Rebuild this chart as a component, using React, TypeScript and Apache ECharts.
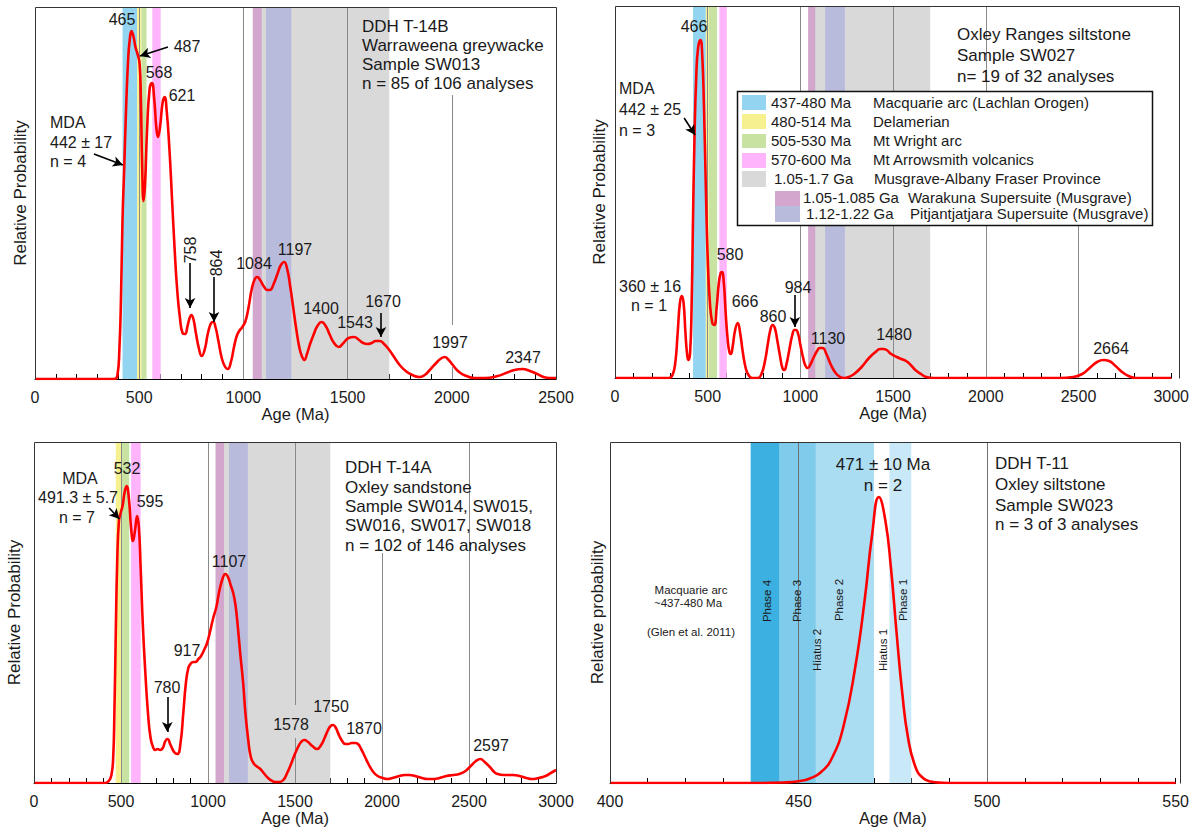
import React, { useEffect, useRef } from "react";
import * as echarts from "echarts";

// ================= DATA =================
// Probability density curves: [age (Ma), relative probability]
const curveT14B: number[][] = [
  [0, 0], [380, 0], [395, 3], [405, 30], [413, 85], [420, 160], [428, 210], [437, 270], [447, 320], [455, 340],
  [463, 348], [472, 343], [482, 332], [492, 325], [502, 315], [508, 280], [514, 215], [521, 178], [528, 195],
  [538, 250], [550, 290], [561, 296], [572, 280], [582, 252], [590, 242], [600, 252], [612, 276], [622, 282],
  [632, 268], [645, 230], [658, 178], [670, 130], [682, 90], [695, 62], [708, 46], [720, 45], [732, 53],
  [742, 61], [750, 64], [760, 60], [772, 46], [786, 31], [800, 23], [815, 30], [830, 46], [845, 56], [855, 57],
  [866, 52], [880, 38], [895, 22], [910, 13], [925, 10], [940, 17], [955, 32], [968, 43], [980, 48], [995, 52],
  [1010, 58], [1025, 72], [1040, 90], [1055, 100], [1066, 102], [1080, 99], [1100, 92], [1115, 89], [1127, 89],
  [1145, 95], [1165, 106], [1180, 114], [1195, 117], [1210, 110], [1225, 92], [1240, 70], [1255, 48], [1270, 30],
  [1282, 22], [1292, 19], [1305, 25], [1320, 35], [1338, 45], [1355, 53], [1375, 57], [1395, 53], [1415, 44],
  [1435, 36], [1457, 32], [1480, 36], [1505, 41], [1531, 42], [1555, 39], [1575, 36], [1595, 35], [1615, 36],
  [1635, 38], [1654, 38], [1675, 35], [1700, 29], [1723, 22], [1750, 14], [1779, 8], [1810, 4], [1843, 2],
  [1870, 4], [1890, 8], [1907, 12], [1925, 16], [1945, 20], [1966, 22], [1985, 19], [2005, 14], [2035, 7],
  [2070, 3], [2108, 1], [2160, 1], [2219, 3], [2260, 6], [2300, 9], [2339, 10], [2375, 8], [2410, 5], [2440, 2],
  [2470, 1], [2500, 1],
];

const curveSW027: number[][] = [
  [0, 0], [290, 0], [310, 3], [325, 15], [338, 45], [350, 75], [360, 82], [370, 75], [380, 45], [390, 22],
  [397, 18], [405, 25], [413, 70], [420, 150], [429, 243], [438, 300], [448, 330], [461, 338], [470, 325],
  [480, 270], [490, 190], [500, 120], [512, 75], [525, 55], [536, 53], [548, 70], [560, 95], [570, 105],
  [577, 106], [587, 95], [597, 65], [607, 40], [617, 26], [625, 24], [635, 32], [648, 48], [662, 55], [675, 45],
  [690, 25], [705, 10], [720, 3], [740, 0], [770, 0], [790, 4], [810, 18], [825, 35], [838, 48], [850, 53],
  [862, 50], [875, 38], [890, 22], [903, 10], [913, 8], [925, 14], [940, 28], [955, 42], [968, 48], [976, 48],
  [988, 44], [1000, 33], [1015, 20], [1028, 12], [1040, 10], [1055, 14], [1070, 20], [1090, 27], [1105, 30],
  [1120, 30], [1140, 24], [1165, 13], [1190, 5], [1215, 1], [1235, 0], [1260, 1], [1290, 4], [1330, 11],
  [1370, 20], [1405, 26], [1430, 29], [1447, 29], [1465, 28], [1490, 24], [1520, 21], [1545, 19], [1570, 17],
  [1595, 13], [1620, 8], [1650, 4], [1680, 1], [1720, 0], [2400, 0], [2470, 1], [2520, 4], [2560, 10],
  [2600, 16], [2635, 18], [2665, 17], [2700, 12], [2735, 6], [2770, 2], [2810, 0], [3000, 0],
];

const curveT14A: number[][] = [
  [0, 0], [410, 0], [430, 2], [445, 8], [455, 25], [462, 70], [470, 150], [478, 220], [488, 262], [498, 270],
  [510, 278], [520, 290], [532, 297], [545, 285], [558, 255], [569, 242], [580, 252], [593, 267], [603, 255],
  [613, 215], [625, 160], [640, 110], [655, 70], [670, 45], [686, 35], [697, 33], [710, 34], [725, 33],
  [740, 35], [755, 42], [767, 44], [785, 38], [805, 31], [824, 29], [842, 40], [858, 70], [873, 100], [887, 115],
  [899, 119], [915, 121], [928, 121], [945, 124], [960, 127], [980, 134], [993, 139], [1010, 150], [1030, 165],
  [1048, 176], [1065, 192], [1085, 205], [1100, 209], [1115, 206], [1130, 198], [1145, 190], [1158, 178],
  [1172, 155], [1185, 130], [1202, 100], [1215, 70], [1230, 45], [1246, 26], [1265, 19], [1285, 16], [1301, 14],
  [1320, 10], [1345, 5], [1370, 2], [1389, 1], [1410, 1], [1433, 3], [1455, 10], [1475, 18], [1495, 27],
  [1515, 35], [1535, 41], [1554, 43], [1575, 41], [1600, 37], [1627, 34], [1650, 38], [1670, 45], [1690, 53],
  [1705, 57], [1719, 58], [1735, 55], [1755, 47], [1775, 41], [1790, 39], [1807, 39], [1825, 40], [1845, 40],
  [1862, 39], [1880, 34], [1900, 27], [1925, 18], [1950, 11], [1975, 7], [2005, 5], [2030, 4], [2060, 5],
  [2100, 7], [2130, 8], [2158, 8], [2190, 7], [2230, 5], [2260, 4], [2290, 4], [2330, 5], [2370, 7], [2410, 8],
  [2444, 9], [2480, 12], [2510, 17], [2540, 22], [2565, 24], [2590, 21], [2620, 16], [2645, 11], [2664, 9],
  [2700, 8], [2752, 8], [2790, 7], [2830, 5], [2862, 4], [2900, 5], [2940, 7], [2970, 10], [3000, 13],
];

const curveSW023: number[][] = [
  [400, 0], [440, 0], [446, 0.5], [450, 1.8], [453, 4.5], [456, 11], [459, 26], [462, 58], [465, 115],
  [467.5, 182], [469.5, 248], [471.3, 286], [473, 263], [474.5, 215], [476, 150], [477.5, 90], [479, 46],
  [481, 16], [483, 5], [485, 1.5], [488, 0.3], [492, 0], [550, 0],
];

// Age bands: [name, from (Ma), to (Ma)]
const bandsT14B: [string, number, number][] = [
  ["macquarie", 420, 490], ["delamerian", 490, 511], ["wright", 511, 535], ["arrowsmith", 563, 603],
  ["musgrave", 1045, 1700], ["warakuna", 1045, 1088], ["pitjantjatjara", 1108, 1230],
];
const bandsSW027: [string, number, number][] = [
  ["macquarie", 421, 490], ["delamerian", 490, 506], ["wright", 506, 550], ["arrowsmith", 563, 603],
  ["musgrave", 1042, 1700], ["warakuna", 1042, 1080], ["pitjantjatjara", 1133, 1240],
];
const bandsT14A: [string, number, number][] = [
  ["delamerian", 470, 506], ["wright", 506, 547], ["arrowsmith", 558, 613],
  ["musgrave", 1044, 1703], ["warakuna", 1044, 1092], ["pitjantjatjara", 1121, 1229],
];
const bandsSW023: [string, number, number][] = [
  ["phase4", 437.3, 445], ["phase3", 445, 454.6], ["phase2", 454.6, 470], ["phase1", 474.1, 479.9],
];

// Reference lines: [age, from, to] (relative probability units)
const refLinesT14B = [[500, 0, 372], [1000, 0, 372], [1500, 0, 372], [2000, 54, 284], [2000, 0, 12]];
const refLinesSW027 = [[500, 0, 372], [1000, 0, 372], [1500, 0, 372], [2000, 0, 372], [2500, 0, 153]];
const refLinesT14A = [[500, 0, 341], [1000, 0, 341], [1500, 78, 341], [1500, 0, 45], [2000, 0, 230], [2500, 0, 341]];
const refLinesSW023 = [[450, 0, 341], [500, 0, 341]];

// Arrows: [fromAge, fromProb, toAge, toProb]
const arrowsT14B = [[638, 332, 504, 323], [283, 225, 422, 214], [744, 116, 744, 71], [859, 102, 859, 57], [1660, 66, 1660, 42]];
const arrowsSW027 = [[373, 260, 432, 243], [970, 83, 970, 51]];
const arrowsT14A = [[432, 275, 491, 264], [766, 86, 766, 51]];

const legendRanges = ["437-480 Ma", "480-514 Ma", "505-530 Ma", "570-600 Ma", "1.05-1.7 Ga", "1.05-1.085 Ga", "1.12-1.22 Ga"];
const legendNames = [
  "Macquarie arc (Lachlan Orogen)", "Delamerian", "Mt Wright arc", "Mt Arrowsmith volcanics",
  "Musgrave-Albany Fraser Province", "Warakuna Supersuite (Musgrave)", "Pitjantjatjara Supersuite (Musgrave)",
];
const legendKeys = ["macquarie", "delamerian", "wright", "arrowsmith", "musgrave", "warakuna", "pitjantjatjara"];

// ================= STYLE / LAYOUT =================
const FONT = '"Liberation Sans", Arial, Helvetica, sans-serif';
const TXT = "#1a1a1a";
const BAND_COLORS: Record<string, string> = {
  macquarie: "#93d5f0", delamerian: "#f7f08e", wright: "#c8e2a2", arrowsmith: "#ffb4fb",
  musgrave: "#d9d9d9", warakuna: "#d3a7cd", pitjantjatjara: "#b9bbdc",
  phase4: "#3cb0e0", phase3: "#7ecbec", phase2: "#aadcf2", phase1: "#c9e9f8",
};
const GRIDS = [
  { left: 35, top: 7, width: 521, height: 372 },
  { left: 615, top: 6, width: 564, height: 372 },
  { left: 34, top: 442, width: 522, height: 341 },
  { left: 610, top: 442, width: 570, height: 341 },
];

function font(size: number) {
  return `${size}px ${FONT}`;
}
function text(x: number, y: number, t: string, size = 16, align = "center", rot = 0) {
  return {
    type: "text", x, y, z: 30, rotation: rot, silent: true,
    style: { text: t, fill: TXT, font: font(size), textAlign: align, textVerticalAlign: "middle" },
  };
}

function buildOption() {
  const panels = [
    { curve: curveT14B, bands: bandsT14B, lines: refLinesT14B, arrows: arrowsT14B, min: 0, max: 2500, interval: 500, yName: "Relative Probability", yGap: 6, xGap: 25, lineColor: "#8a8a8a" },
    { curve: curveSW027, bands: bandsSW027, lines: refLinesSW027, arrows: arrowsSW027, min: 0, max: 3000, interval: 500, yName: "Relative Probability", yGap: 7, xGap: 25, lineColor: "#8a8a8a" },
    { curve: curveT14A, bands: bandsT14A, lines: refLinesT14A, arrows: arrowsT14A, min: 0, max: 3000, interval: 500, yName: "Relative Probability", yGap: 11, xGap: 26, lineColor: "#8a8a8a" },
    { curve: curveSW023, bands: bandsSW023, lines: refLinesSW023, arrows: [] as number[][], min: 400, max: 550, interval: 50, yName: "Relative probability", yGap: 4, xGap: 26, lineColor: "#707070" },
  ];

  const grid = GRIDS.map((g) => ({ ...g, show: false }));
  const xAxis = panels.map((p, i) => ({
    type: "value", gridIndex: i, min: p.min, max: p.max, interval: p.interval,
    name: "Age (Ma)", nameLocation: "middle", nameGap: p.xGap,
    nameTextStyle: { fontSize: 16.5, color: TXT, fontFamily: FONT },
    axisLine: { show: true, onZero: false, lineStyle: { color: "#000", width: 1 } },
    axisTick: { show: true, inside: true, length: 5, lineStyle: { color: "#000", width: 1 } },
    minorTick: { show: true, splitNumber: 5, length: 5, lineStyle: { color: "#000", width: 1 } },
    axisLabel: { fontSize: 16, color: TXT, fontFamily: FONT, margin: 10, formatter: (v: number) => String(v) },
    splitLine: { show: false },
  }));
  const yAxis = panels.map((p, i) => ({
    type: "value", gridIndex: i, min: 0, max: GRIDS[i].height,
    name: p.yName, nameLocation: "middle", nameGap: p.yGap, nameRotate: 90,
    nameTextStyle: { fontSize: 17, color: TXT, fontFamily: FONT },
    axisLine: { show: false }, axisTick: { show: false }, axisLabel: { show: false }, splitLine: { show: false },
  }));

  const series: any[] = [];
  panels.forEach((p, i) => {
    series.push({
      type: "line", xAxisIndex: i, yAxisIndex: i, data: p.curve, smooth: 0.5,
      symbol: "none", z: 3, silent: true,
      lineStyle: { color: "#ff0000", width: 2.6 },
      markArea: {
        silent: true, z: 1,
        data: p.bands.map((b) => [
          { xAxis: b[1], itemStyle: { color: BAND_COLORS[b[0]], opacity: 1 } },
          { xAxis: b[2] },
        ]),
      },
    });
    series.push({
      type: "line", xAxisIndex: i, yAxisIndex: i, data: [], symbol: "none", z: 2, silent: true,
      markLine: {
        silent: true, z: 2, symbol: ["none", "none"], label: { show: false },
        lineStyle: { color: p.lineColor, width: 1, type: "solid" },
        data: p.lines.map((l) => [{ coord: [l[0], l[1]] }, { coord: [l[0], l[2]] }]),
      },
    });
    if (p.arrows.length) {
      series.push({
        type: "line", xAxisIndex: i, yAxisIndex: i, data: [], symbol: "none", z: 6, silent: true,
        markLine: {
          silent: true, z: 6, symbol: ["none", "arrow"], symbolSize: [8, 10], label: { show: false },
          lineStyle: { color: "#000", width: 1.6, type: "solid" },
          data: p.arrows.map((a) => [{ coord: [a[0], a[1]] }, { coord: [a[2], a[3]] }]),
        },
      });
    }
  });

  const graphic: any[] = [];
  // plot frames (top, left, right edges)
  GRIDS.forEach((g) => {
    const l = g.left + 0.5, t = g.top + 0.5, r = g.left + g.width + 0.5, b = g.top + g.height + 0.5;
    graphic.push({
      type: "polyline", z: 25, silent: true,
      shape: { points: [[l, b], [l, t], [r, t], [r, b]] },
      style: { stroke: "#333", lineWidth: 1, fill: null },
    });
  });

  // Panel 1 annotations
  const P = Math.PI / 2;
  [["465", 122, 19], ["487", 187, 46], ["568", 159, 72], ["621", 182, 95], ["1084", 254, 263], ["1197", 295, 249],
   ["1400", 321, 308], ["1543", 355, 322], ["1670", 383, 301], ["1997", 450, 342], ["2347", 523, 357]]
    .forEach((a: any) => graphic.push(text(a[1], a[2], a[0])));
  graphic.push(text(190, 250, "758", 16, "center", P));
  graphic.push(text(216, 263, "864", 16, "center", P));
  [["MDA", 122], ["442 ± 17", 142], ["n = 4", 161]].forEach((a: any) => graphic.push(text(50, a[1], a[0], 16, "left")));
  [["DDH T-14B", 26], ["Warraweena greywacke", 45], ["Sample SW013", 64], ["n = 85 of 106 analyses", 83]]
    .forEach((a: any) => graphic.push(text(362, a[1], a[0], 17, "left")));

  // Panel 2 annotations
  [["466", 694, 26], ["580", 730, 254], ["666", 745, 301], ["860", 773, 316], ["984", 798, 287], ["1130", 828, 338],
   ["1480", 894, 334], ["2664", 1111, 348]].forEach((a: any) => graphic.push(text(a[1], a[2], a[0])));
  [["MDA", 619, 88], ["442 ± 25", 619, 109], ["n = 3", 619, 130], ["360 ± 16", 619, 286], ["n = 1", 631, 305]]
    .forEach((a: any) => graphic.push(text(a[1], a[2], a[0], 16, "left")));
  [["Oxley Ranges siltstone", 34], ["Sample SW027", 55], ["n= 19 of 32 analyses", 76]]
    .forEach((a: any) => graphic.push(text(957, a[1], a[0], 17, "left")));

  // Panel 2 legend box
  graphic.push({
    type: "rect", z: 40, silent: true, shape: { x: 737.5, y: 91.5, width: 415, height: 134 },
    style: { fill: "#fff", stroke: "#111", lineWidth: 1.5 },
  });
  const swatches = [[742, 95, 24, 15], [742, 114, 24, 15], [742, 134, 24, 14], [742, 153, 24, 15], [742, 171, 24, 16], [775, 191, 25, 15], [775, 206, 25, 16]];
  const rowY = [102, 121, 140, 159, 178, 197, 213];
  const rangeX = [771, 771, 771, 771, 774, 803, 806];
  const nameX = [873, 873, 873, 873, 874, 908, 910];
  legendKeys.forEach((k, i) => {
    const s = swatches[i];
    graphic.push({ type: "rect", z: 41, silent: true, shape: { x: s[0], y: s[1], width: s[2], height: s[3] }, style: { fill: BAND_COLORS[k] } });
    graphic.push({ ...text(rangeX[i], rowY[i], legendRanges[i], 15, "left"), z: 42 });
    graphic.push({ ...text(nameX[i], rowY[i], legendNames[i], 15, "left"), z: 42 });
  });

  // Panel 3 annotations
  [["MDA", 80, 478], ["491.3 ± 5.7", 78, 497], ["n = 7", 77, 517], ["532", 127, 468], ["595", 150, 501],
   ["1107", 229, 561], ["917", 187, 650], ["780", 167, 687], ["1578", 291, 724], ["1750", 331, 706],
   ["1870", 364, 728], ["2597", 491, 745]].forEach((a: any) => graphic.push(text(a[1], a[2], a[0])));
  [["DDH T-14A", 467], ["Oxley sandstone", 487], ["Sample SW014, SW015,", 506], ["SW016, SW017, SW018", 525], ["n = 102 of 146 analyses", 545]]
    .forEach((a: any) => graphic.push(text(345, a[1], a[0], 17, "left")));

  // Panel 4 annotations
  graphic.push(text(883, 464, "471 ± 10 Ma", 17));
  graphic.push(text(883, 485, "n = 2", 17));
  [["DDH T-11", 463], ["Oxley siltstone", 484], ["Sample SW023", 505], ["n = 3 of 3 analyses", 524]]
    .forEach((a: any) => graphic.push(text(995, a[1], a[0], 17, "left")));
  [["Macquarie arc", 691, 590], ["~437-480 Ma", 688, 603], ["(Glen et al. 2011)", 691, 632]]
    .forEach((a: any) => graphic.push(text(a[1], a[2], a[0], 11.5)));
  [["Phase 4", 767, 601], ["Phase 3", 797, 601], ["Hiatus 2", 817, 650], ["Phase 2", 839, 600], ["Hiatus 1", 883, 650], ["Phase 1", 903, 600]]
    .forEach((a: any) => graphic.push(text(a[1], a[2], a[0], 11.5, "center", P)));

  return {
    animation: false,
    backgroundColor: "#ffffff",
    textStyle: { fontFamily: FONT },
    grid, xAxis, yAxis, series, graphic,
  };
}

export default function App() {
  const ref = useRef<HTMLDivElement>(null);
  useEffect(() => {
    if (!ref.current) return;
    const chart = echarts.init(ref.current, undefined, { renderer: "svg" });
    chart.setOption(buildOption() as any);
    return () => chart.dispose();
  }, []);
  return (
    <div
      ref={ref}
      style={{ position: "absolute", left: 0, top: 0, width: 1192, height: 829, background: "#fff" }}
    />
  );
}
